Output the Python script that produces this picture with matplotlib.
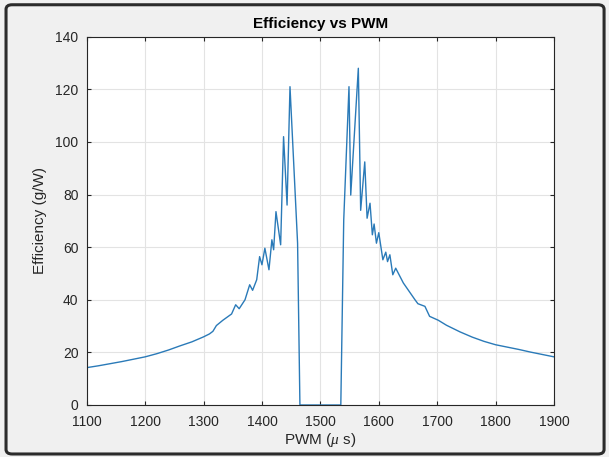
import numpy as np
import matplotlib.pyplot as plt
from matplotlib.patches import FancyBboxPatch

plt.rcParams['font.family'] = ['Liberation Sans', 'DejaVu Sans']
plt.rcParams['mathtext.fontset'] = 'custom'
plt.rcParams['mathtext.it'] = 'Liberation Serif:italic'

# PWM (us) and efficiency (g/W)
pwm = [1100, 1120, 1140, 1160, 1180, 1200, 1220, 1240, 1260, 1280,
       1300, 1310, 1316, 1322, 1333, 1348, 1355, 1361, 1371, 1379,
       1384, 1391, 1396, 1400, 1405, 1412, 1417, 1420, 1424, 1432,
       1437, 1443, 1448, 1461, 1465, 1535, 1540, 1549, 1552, 1565,
       1569, 1576, 1580, 1585, 1589, 1592, 1596, 1600, 1607, 1612,
       1615, 1619, 1624, 1629, 1642, 1662, 1667, 1679, 1687, 1702,
       1716, 1739, 1760, 1780, 1800, 1820, 1840, 1860, 1880, 1900]
eff = [14.2, 14.9, 15.7, 16.5, 17.4, 18.3, 19.5, 20.9, 22.5, 24.0,
       25.9, 27.0, 28.0, 30.2, 32.2, 34.6, 38.1, 36.6, 40.0, 45.7,
       43.6, 47.6, 56.4, 53.3, 59.6, 51.4, 62.8, 59.0, 73.5, 60.9,
       102.0, 76.0, 121.0, 61.5, 0.0, 0.0, 70.3, 121.0, 79.8, 128.0,
       74.0, 92.4, 71.0, 76.7, 64.7, 68.8, 61.5, 65.5, 55.2, 58.1,
       54.5, 57.1, 49.5, 52.0, 46.4, 40.0, 38.5, 37.5, 33.7, 32.2,
       30.3, 27.8, 25.8, 24.2, 22.9, 22.0, 21.1, 20.1, 19.2, 18.3]

fig = plt.figure(figsize=(6.09, 4.57), dpi=100)
fig.patch.set_facecolor('#f0f0f0')
# dark rounded window frame
fig.patches.append(FancyBboxPatch((0.0099, 0.0066), 0.982, 0.983,
                                  boxstyle='round,pad=0,rounding_size=0.01',
                                  transform=fig.transFigure, fill=False,
                                  edgecolor='#2b2b2b', linewidth=2.2))

ax = fig.add_axes([0.1424, 0.1138, 0.7673, 0.8059])
ax.plot(pwm, eff, color='#2a7ab8', linewidth=1.0)
ax.set_xlim(1100, 1900)
ax.set_ylim(0, 140)
ax.set_xticks(np.arange(1100, 1901, 100))
ax.set_yticks(np.arange(0, 141, 20))
ax.grid(True, color='#e3e3e3', linewidth=0.8)
ax.set_axisbelow(True)
ax.tick_params(direction='in', length=3, colors='#262626', labelsize=10,
               top=True, right=True)
ax.tick_params(axis='x', pad=7)
ax.tick_params(axis='y', pad=6)
for s in ax.spines.values():
    s.set_color('#262626')
    s.set_linewidth(0.8)
ax.set_title('Efficiency vs PWM', fontsize=11, fontweight='bold', color='black', pad=6)
ax.set_xlabel(r'PWM ($\mu$ s)', fontsize=11, color='#262626', labelpad=2)
ax.set_ylabel('Efficiency (g/W)', fontsize=11, color='#262626', labelpad=6)

fig.savefig('out.png', dpi=100, facecolor=fig.get_facecolor())
